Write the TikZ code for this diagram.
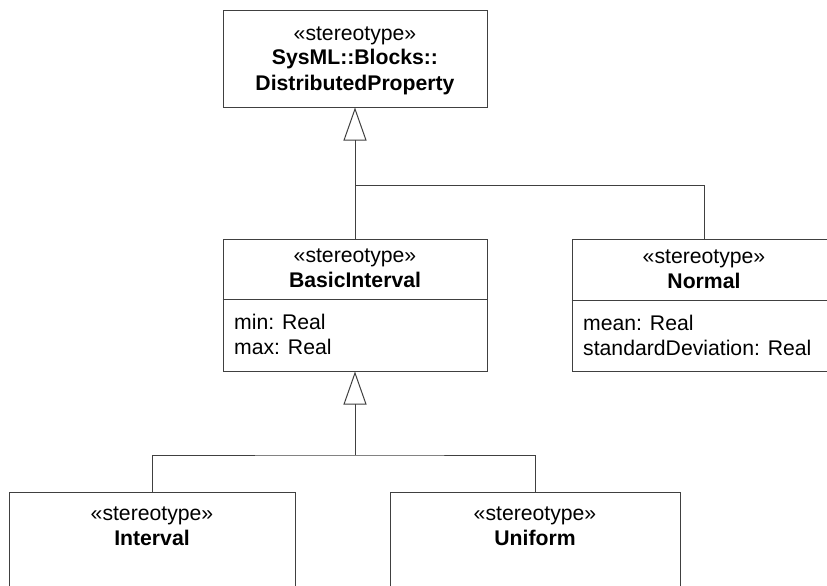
\documentclass[tikz,border=0pt]{standalone}
\usepackage{fontspec}
\setmainfont{Liberation Sans}
\usetikzlibrary{arrows.meta,calc}
\definecolor{LineGray}{HTML}{404040}

\begin{document}
\begin{tikzpicture}[x=1pt,y=1pt,font=\fontsize{21.2}{25}\selectfont,
    block/.style={draw=LineGray,line width=1pt,fill=white,minimum width=264pt,inner sep=0pt},
    head/.style={align=center,anchor=base,inner sep=0pt},
    attr/.style={align=left,anchor=base west,inner sep=0pt},
    link/.style={LineGray,line width=1pt},
    gen/.style={link,-{Triangle[open,length=33pt,width=23pt]}}]
    \fill[white] (0,0) rectangle (827,-586);
    \useasboundingbox (0,0) rectangle (827,-586);
    \clip (0,0) rectangle (827,-586);
    % blocks
    \node[block,minimum height=96pt] (dist) at (355,-59) {};
    \node[block,minimum height=132pt] (basic) at (355,-305) {};
    \node[block,minimum height=132pt] (normal) at (704,-305) {};
    \node[block,minimum width=286pt,minimum height=96pt] (interval) at (152,-540) {};
    \node[block,minimum width=290pt,minimum height=96pt] (uniform) at (535,-540) {};
    \draw[link] ([yshift=-61pt]basic.north west) -- ([yshift=-61pt]basic.north east);
    \draw[link] ([yshift=-62pt]normal.north west) -- ([yshift=-62pt]normal.north east);
    % texts (base = last line)
    \node[head] (distname) at (355,-90) {«stereotype»\\\textbf{SysML::Blocks::}\\\textbf{DistributedProperty}};
    \node[head] (basicname) at (355,-287) {«stereotype»\\\textbf{BasicInterval}};
    \node[attr] (basicattr) at (234,-354) {min: Real\\max: Real};
    \node[head] (normalname) at (704,-288) {«stereotype»\\\textbf{Normal}};
    \node[attr] (normalattr) at (583,-355) {mean: Real\\standardDeviation: Real};
    \node[head] (intervalname) at (152,-545) {«stereotype»\\\textbf{Interval}};
    \node[head] (uniformname) at (535,-545) {«stereotype»\\\textbf{Uniform}};
    % generalizations
    \coordinate (j1) at (355,-185);
    \coordinate (j2) at (355,-455);
    \draw[gen] (basic.north) -- (dist.south);
    \draw[link] (normal.north) |- (j1);
    \draw[gen] (j2) -- (basic.south);
    \draw[link] (interval.north) |- (j2) -| (uniform.north);
\end{tikzpicture}
\end{document}
